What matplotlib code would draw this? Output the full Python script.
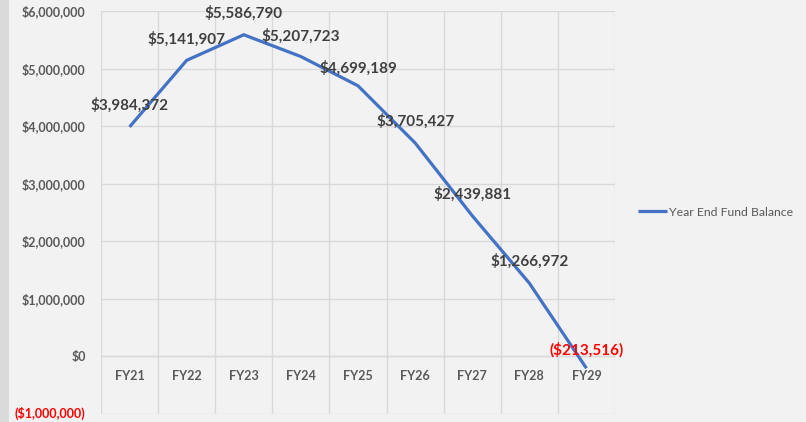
import matplotlib
matplotlib.use('Agg')
import matplotlib.pyplot as plt
import matplotlib.patches as mpatches
from matplotlib.ticker import FixedLocator, FuncFormatter

plt.rcParams['font.family'] = ['Lato', 'DejaVu Sans']

# Fund balance by fiscal year
years = ['FY21', 'FY22', 'FY23', 'FY24', 'FY25', 'FY26', 'FY27', 'FY28', 'FY29']
balance = [3984372, 5141907, 5586790, 5207723, 4699189, 3705427, 2439881, 1266972, -213516]
y_ticks = [-1000000, 0, 1000000, 2000000, 3000000, 4000000, 5000000, 6000000]

# vertical label offsets in points so labels sit just above the line
label_dy = [10, 10, 10, 9, 7.5, 10, 10, 10, 8]

BG = '#f2f2f2'
GRID = '#d9d9d9'
LINE = '#4472c4'
TEXT = '#595959'


def money(v):
    if v < 0:
        return '(${:,.0f})'.format(-v)
    return '${:,.0f}'.format(v)


fig = plt.figure(figsize=(8.06, 4.22), dpi=100, facecolor=BG)
# darker strip down the left edge of the slide
fig.patches.append(mpatches.Rectangle((0, 0), 9 / 806, 1, transform=fig.transFigure,
                                      facecolor='#dadada', edgecolor='none', zorder=0))

ax = fig.add_axes([101 / 806, 1 - 413.5 / 422, (615 - 101) / 806, (413.5 - 11) / 422])
ax.set_facecolor(BG)

x = list(range(len(years)))
ax.plot(x, balance, color=LINE, linewidth=2.3, solid_capstyle='butt', zorder=3,
        label='Year End Fund Balance')

ax.set_xlim(-0.5, len(years) - 0.5)
ax.set_ylim(-1000000, 6000000)

# grid: horizontal at each y tick, vertical at category boundaries
ax.yaxis.set_major_locator(FixedLocator(y_ticks))
ax.yaxis.set_major_formatter(FuncFormatter(lambda v, p: money(v)))
ax.set_xticks(x)
ax.set_xticklabels(years)
ax.set_xticks([i - 0.5 for i in range(len(years) + 1)], minor=True)
ax.grid(True, axis='y', which='major', color=GRID, linewidth=1)
ax.grid(True, axis='x', which='minor', color=GRID, linewidth=1)
ax.set_axisbelow(True)

for s in ['top', 'right', 'left']:
    ax.spines[s].set_visible(False)
ax.spines['bottom'].set_position(('data', 0))
ax.spines['bottom'].set_color(GRID)
ax.spines['bottom'].set_linewidth(1)

ax.tick_params(axis='both', which='both', length=0)
ax.tick_params(axis='y', pad=11, labelsize=9, labelcolor=TEXT)
ax.tick_params(axis='x', pad=10, labelsize=9, labelcolor=TEXT)
for t in ax.get_yticklabels() + ax.get_xticklabels():
    t.set_fontweight('bold')
for t, v in zip(ax.get_yticklabels(), y_ticks):
    if v < 0:
        t.set_color('#ff0000')
        t.set_va('center')

# data labels
for xi, v, dy in zip(x, balance, label_dy):
    ax.annotate(money(v), (xi, v), xytext=(0, dy), textcoords='offset points',
                ha='center', va='bottom', fontsize=11, fontweight='bold',
                color='#ff0000' if v < 0 else '#404040', zorder=4)

leg = fig.legend(loc='center left', bbox_to_anchor=(627 / 806, 1 - 212 / 422),
                 frameon=False, fontsize=8.8, handlelength=2.4, handletextpad=0.1)
for t in leg.get_texts():
    t.set_color(TEXT)

fig.savefig('out.png', dpi=100, facecolor=BG)
